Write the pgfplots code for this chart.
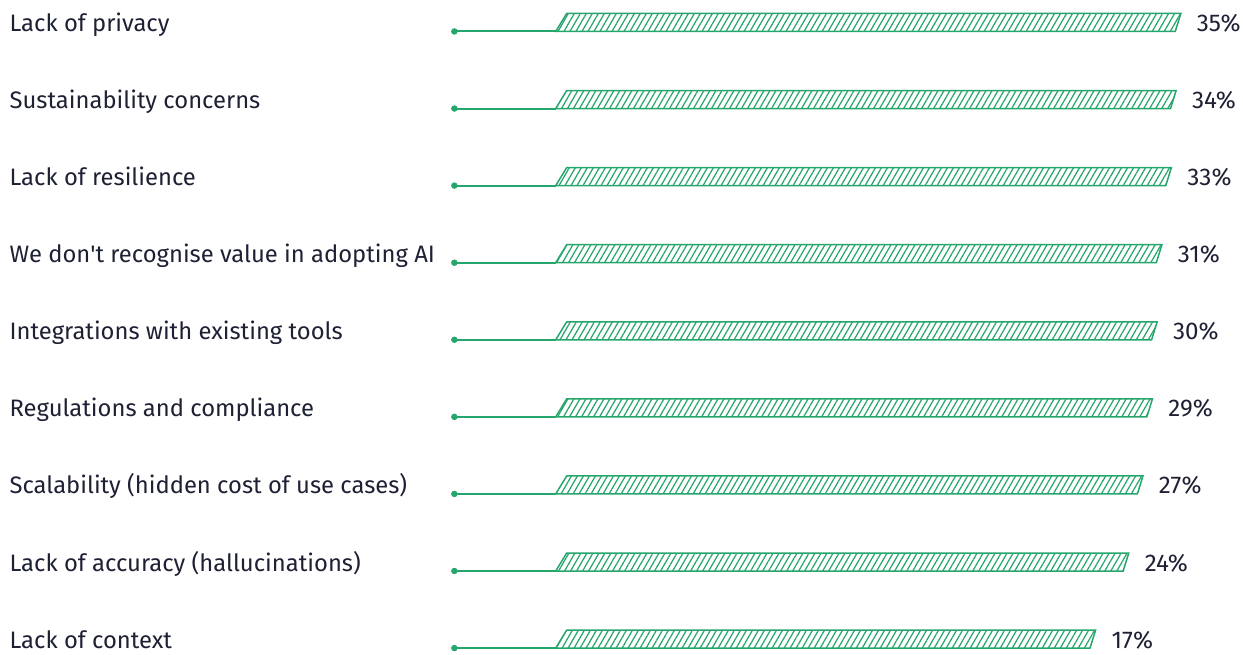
\documentclass[border=0pt]{standalone}
\usepackage{fontspec}
\setmainfont{Fira Sans}
\usepackage{pgfplots}
\pgfplotsset{compat=1.18}
\usepackage{pgfplotstable}
\usetikzlibrary{patterns.meta}
\definecolor{grn}{RGB}{38,166,108}
\definecolor{txt}{RGB}{30,32,52}

\pgfplotstableread{
idx val
0 35
1 34
2 33
3 31
4 30
5 29
6 27
7 24
8 17
}\data

\begin{document}
\begin{tikzpicture}
\begin{axis}[
  scale only axis, width=621.5pt, height=326.5pt,
  xmin=-214.27, xmax=48.08, ymin=-0.408, ymax=8.061, y dir=reverse,
  axis line style={draw=none}, major tick length=0pt, xtick=\empty,
  ytick={0,...,8},
  yticklabels={Lack of privacy, Sustainability concerns, Lack of resilience, We don\textquotesingle t recognise value in adopting AI, Integrations with existing tools, Regulations and compliance, Scalability (hidden cost of use cases), Lack of accuracy (hallucinations), Lack of context},
  yticklabel style={anchor=base west, inner sep=0pt, xshift=4.5pt, font=\fontsize{11.9pt}{14pt}\selectfont, text=txt},
  clip=false,
]
\path (rel axis cs:0,0) rectangle (rel axis cs:1,1);
\pgfplotsinvokeforeach{0,...,8}{
  \pgfplotstablegetelem{#1}{val}\of\data
  \pgfmathsetmacro\vtr{\pgfplotsretval}
  \pgfmathsetmacro\vbr{\pgfplotsretval-1.18}
  \pgfmathsetmacro\yt{#1-0.2335}
  \edef\cmd{\noexpand\addplot[draw=grn, line width=0.75pt, line join=miter, pattern={Lines[angle=60, distance=2.6pt, line width=0.62pt]}, pattern color=grn] coordinates {(-96.98,#1) (-94.66,\yt) (\vtr,\yt) (\vbr,#1)} -- cycle;}
  \cmd
}
\addplot[only marks, mark=*, mark size=1.4pt, color=grn,
  error bars/.cd, x dir=plus, x fixed=21.4, error mark=none,
  error bar style={line width=1pt, color=grn}]
  table[x expr=-118.38, y=idx]{\data};
\addplot[draw=none, mark=none, nodes near coords={\pgfplotspointmeta\%}, point meta=explicit symbolic,
  nodes near coords align={horizontal},
  every node near coord/.append style={anchor=base west, inner sep=0pt, xshift=7.8pt, font=\fontsize{12.1pt}{14pt}\selectfont, text=txt}]
  table[x=val, y=idx, meta=val]{\data};
\end{axis}
\end{tikzpicture}
\end{document}
